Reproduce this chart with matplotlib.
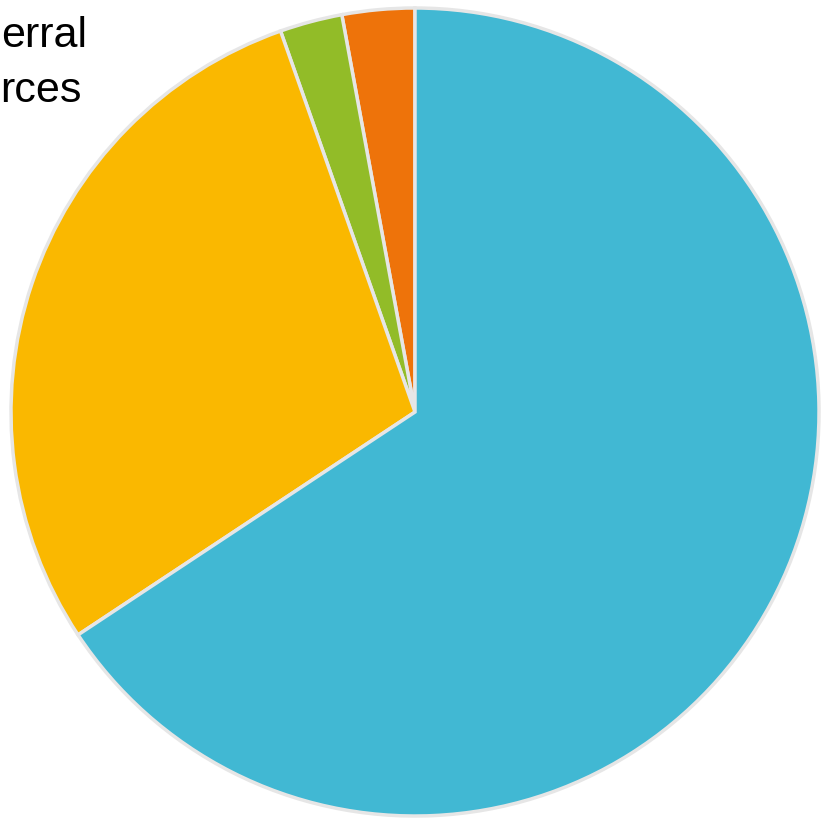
import matplotlib.pyplot as plt

# Slice data (counter-clockwise from 12 o'clock)
labels = ["Orange", "Green", "Yellow", "Blue"]
values = [2.9, 2.5, 28.9, 65.7]
colors = ["#EE730A", "#92BC28", "#FAB800", "#41B8D3"]
explode = [0, 0, 0, 0.016]

# visible part of the label (the rest is outside the frame)
label_lines = ["erral", "rces"]

fig = plt.figure(figsize=(8.22, 8.22), dpi=100)
ax = fig.add_axes([0, 0, 1, 1])

ax.pie(values, colors=colors, explode=explode, startangle=90, counterclock=True,
       center=(415, 410), radius=404,
       wedgeprops=dict(edgecolor="#e6e6e6", linewidth=2.5))
ax.set_xlim(0, 822)
ax.set_ylim(0, 822)
ax.set_aspect("equal")
ax.axis("off")

ax.text(1, 822 - 47, label_lines[0], ha="left", va="baseline", fontsize=31,
        family="Liberation Sans", color="black")
ax.text(81, 822 - 102, label_lines[1], ha="right", va="baseline", fontsize=31,
        family="Liberation Sans", color="black")

fig.savefig("out.png", dpi=100)
